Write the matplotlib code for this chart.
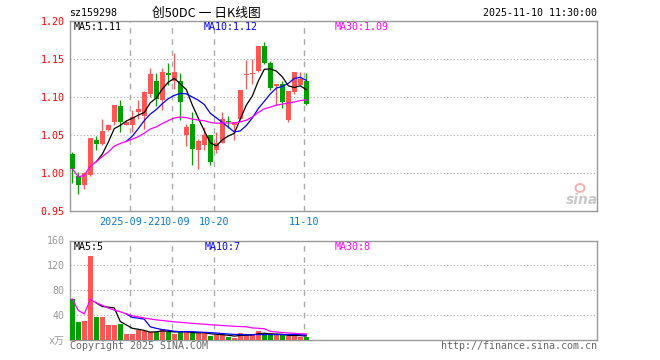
import matplotlib
matplotlib.use('Agg')
import matplotlib.pyplot as plt
from matplotlib.patches import Ellipse
import pandas as pd

dates = ['2025-09-08', '2025-09-09', '2025-09-10', '2025-09-11', '2025-09-12',
         '2025-09-15', '2025-09-16', '2025-09-17', '2025-09-18', '2025-09-19',
         '2025-09-22', '2025-09-23', '2025-09-24', '2025-09-25', '2025-09-26',
         '2025-09-29', '2025-09-30', '2025-10-09', '2025-10-10', '2025-10-13',
         '2025-10-14', '2025-10-15', '2025-10-16', '2025-10-17', '2025-10-20',
         '2025-10-21', '2025-10-22', '2025-10-23', '2025-10-24', '2025-10-27',
         '2025-10-28', '2025-10-29', '2025-10-30', '2025-10-31', '2025-11-03',
         '2025-11-04', '2025-11-05', '2025-11-06', '2025-11-07', '2025-11-10']

opens = [1.025, 0.997, 0.985, 0.998, 1.044, 1.038, 1.057, 1.067, 1.089, 1.064,
         1.064, 1.080, 1.076, 1.104, 1.122, 1.096, 1.132, 1.122, 1.122, 1.050,
         1.065, 1.030, 1.037, 1.050, 1.031, 1.040, 1.069, 1.063, 1.071, 1.129,
         1.131, 1.135, 1.167, 1.145, 1.115, 1.118, 1.070, 1.107, 1.116, 1.121]
highs = [1.028, 1.002, 1.002, 1.047, 1.049, 1.072, 1.065, 1.090, 1.097, 1.070,
         1.083, 1.096, 1.108, 1.139, 1.132, 1.139, 1.145, 1.158, 1.132, 1.065,
         1.081, 1.045, 1.061, 1.050, 1.055, 1.081, 1.075, 1.068, 1.109, 1.149,
         1.151, 1.168, 1.173, 1.148, 1.118, 1.121, 1.108, 1.133, 1.133, 1.132]
lows = [0.987, 0.973, 0.980, 0.997, 1.030, 1.037, 1.056, 1.063, 1.054, 1.063,
        1.055, 1.072, 1.058, 1.100, 1.088, 1.083, 1.116, 1.111, 1.070, 1.036,
        1.011, 1.006, 1.031, 1.011, 1.027, 1.040, 1.059, 1.044, 1.070, 1.111,
        1.117, 1.133, 1.144, 1.110, 1.090, 1.086, 1.068, 1.105, 1.116, 1.090]
closes = [1.006, 0.985, 1.001, 1.046, 1.038, 1.056, 1.064, 1.090, 1.067, 1.067,
          1.074, 1.085, 1.107, 1.131, 1.098, 1.133, 1.130, 1.133, 1.094, 1.061,
          1.032, 1.043, 1.050, 1.015, 1.040, 1.072, 1.068, 1.068, 1.109, 1.131,
          1.132, 1.167, 1.145, 1.112, 1.117, 1.094, 1.108, 1.133, 1.124, 1.091]
# volume, x万
volumes = [65.5, 28.5, 30.0, 135.0, 36.5, 36.5, 23.6, 23.6, 25.2, 9.1,
           9.1, 15.6, 14.0, 11.8, 11.8, 16.6, 11.8, 9.1, 14.0, 11.8,
           9.7, 9.7, 9.7, 5.9, 7.0, 7.0, 4.8, 2.7, 11.3, 9.1,
           9.1, 14.0, 7.0, 7.0, 7.0, 7.0, 5.4, 7.0, 4.8, 4.3]

tick_dates = ['2025-09-22', '2025-10-09', '2025-10-20', '2025-11-10']
tick_labels = ['2025-09-22', '10-09', '10-20', '11-10']
price_ticks = [0.95, 1.00, 1.05, 1.10, 1.15, 1.20]
vol_ticks = [40, 80, 120, 160]

up_color = '#ff5555'
down_color = '#00a000'
grid_color = '#aaaaaa'
frame_color = '#999999'
mono = ['DejaVu Sans Mono', 'Noto Sans CJK SC']
fs = 7.2

W, H = 660, 360
fig = plt.figure(figsize=(6.6, 3.6), dpi=100)


def box(left, top, right, bottom):
    return [left / W, 1 - bottom / H, (right - left) / W, (bottom - top) / H]


def put(x, y, s, color='black', ha='left', **kw):
    fig.text(x / W, 1 - y / H, s, color=color, ha=ha, va='center',
             family=kw.pop('family', mono), fontsize=kw.pop('fontsize', fs), **kw)


ax = fig.add_axes(box(70, 21.3, 597, 211.3))
axv = fig.add_axes(box(70, 240.5, 597, 339.5))

xs = list(range(len(dates)))
cl = pd.Series(closes)
vl = pd.Series(volumes)
colors = [up_color if c >= o else down_color for o, c in zip(opens, closes)]

for i in xs:
    o, c = opens[i], closes[i]
    ax.vlines(i, lows[i], highs[i], color=colors[i], lw=0.9, zorder=3)
    ax.bar(i, max(abs(c - o), 0.0012), bottom=min(o, c), width=0.8,
           color=colors[i], zorder=3)

ax.plot(xs, cl.rolling(5).mean(), color='black', lw=0.9, zorder=4)
ax.plot(xs, cl.rolling(10).mean(), color='#0000ff', lw=0.9, zorder=4)
ax.plot(xs, cl.rolling(30, min_periods=1).mean(), color='#ff00ff', lw=0.9, zorder=4)

axv.bar(xs, volumes, width=0.8, color=colors, zorder=3)
axv.plot(xs, vl.rolling(5).mean(), color='black', lw=0.9, zorder=4)
axv.plot(xs, vl.rolling(10).mean(), color='#0000ff', lw=0.9, zorder=4)
axv.plot(xs, vl.rolling(30, min_periods=1).mean(), color='#ff00ff', lw=0.9, zorder=4)

tick_pos = [dates.index(d) - 0.33 for d in tick_dates]
xlim = (-0.38, 87.45)

for a in (ax, axv):
    a.set_xlim(*xlim)
    for s in a.spines.values():
        s.set_color(frame_color)
        s.set_linewidth(1)
    for p in tick_pos:
        a.axvline(p, color=grid_color, lw=1, ls=(0, (4, 4)), zorder=1)
    a.tick_params(length=0)

ax.set_ylim(0.95, 1.20)
for y in price_ticks[1:-1]:
    ax.axhline(y, color=grid_color, lw=0.8, ls=(0, (1, 2)), zorder=1)
ax.set_yticks(price_ticks)
ax.set_yticklabels(['%.2f' % v for v in price_ticks], color='#ff0000',
                   family=mono, fontsize=fs)
ax.tick_params(axis='y', pad=4)
ax.set_xticks([])
# date labels; the 10-09 one sits a touch right, as in the original
nudge = [0, 0.5, 0, 0]
for p, lab, dx in zip(tick_pos, tick_labels, nudge):
    ax.text(p + dx, 0.942, lab, color='#0a7ad0', family=mono, fontsize=7.3,
            ha='center', va='top', clip_on=False)

axv.set_ylim(0, 160)
for y in vol_ticks[:-1]:
    axv.axhline(y, color=grid_color, lw=0.8, ls=(0, (1, 2)), zorder=1)
axv.set_yticks(vol_ticks)
axv.set_yticklabels([str(v) for v in vol_ticks], color='#999999',
                    family=mono, fontsize=fs)
axv.tick_params(axis='y', pad=4)
axv.set_xticks([])

put(69, 13, 'sz159298')
put(206, 13, '创50DC 一 日K线图', ha='center',
    family=['Noto Sans CJK SC', 'DejaVu Sans Mono'], fontsize=9.2)
put(597, 13, '2025-11-10 11:30:00', ha='right')
put(74, 27, 'MA5:1.11')
put(204, 27, 'MA10:1.12', color='#0000ff')
put(335, 27, 'MA30:1.09', color='#ff00ff')
put(74, 247, 'MA5:5')
put(205, 247, 'MA10:7', color='#0000ff')
put(335, 247, 'MA30:8', color='#ff00ff')
put(49, 341, 'x万', color='#999999', family=['DejaVu Sans Mono', 'Noto Sans CJK SC'])
put(70, 346, 'Copyright 2025 SINA.COM', color='#666666')
put(597, 346, 'http://finance.sina.com.cn', color='#666666', ha='right')

put(582, 200, 'sina', color='#c8c8c8', ha='center', family='DejaVu Sans',
    fontsize=10, style='italic', weight='bold')
fig.add_artist(Ellipse((580 / W, 1 - 188 / H), 9 / W, 8 / H, facecolor='none',
                       edgecolor='#f5b0b0', lw=1.4, transform=fig.transFigure))

fig.savefig('out.png', dpi=100, facecolor='white')
